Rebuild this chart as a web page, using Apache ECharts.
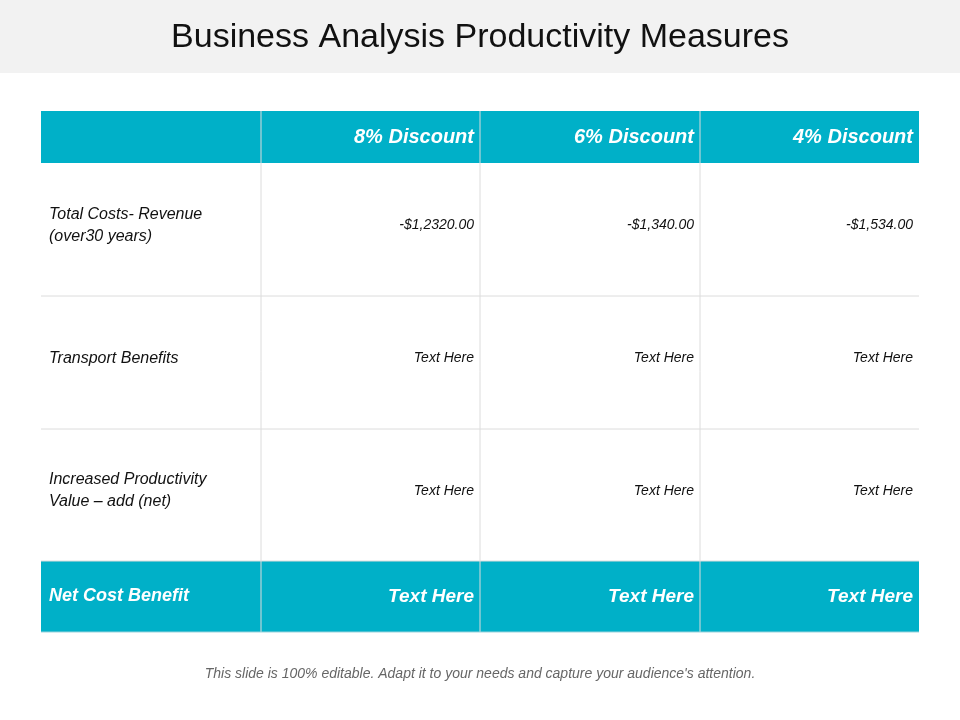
<!DOCTYPE html>
<html><head><meta charset="utf-8">
<script src="https://cdn.jsdelivr.net/npm/echarts@6/dist/echarts.min.js"></script>
<style>html,body{margin:0;padding:0;background:#fff}#c{width:960px;height:720px}</style>
</head><body><div id="c"></div>
<script>
const title = "Business Analysis Productivity Measures";
const columns = ["8% Discount", "6% Discount", "4% Discount"];
const rowLabels = ["Total Costs- Revenue\n(over30 years)", "Transport Benefits", "Increased Productivity\nValue – add (net)"];
const rowValues = [
  ["-$1,2320.00", "-$1,340.00", "-$1,534.00"],
  ["Text Here", "Text Here", "Text Here"],
  ["Text Here", "Text Here", "Text Here"]
];
const totalLabel = "Net Cost Benefit";
const totalValues = ["Text Here", "Text Here", "Text Here"];
const footnote = "This slide is 100% editable. Adapt it to your needs and capture your audience's attention.";

const colX = [41, 261, 480, 700, 919];
const rowY = [111, 163, 296, 429, 561, 632];
const TEAL = "#00b0c8", LINE = "#dcdcdc", FONT = "Liberation Sans, Arial, sans-serif";
const g = [];
g.push({type:'rect', shape:{x:0,y:0,width:960,height:73}, style:{fill:'#f2f2f2'}});
g.push({type:'text', x:480, y:38, style:{text:title, font:'34px '+FONT, fill:'#111', align:'center', verticalAlign:'middle'}});
// header & footer bands
g.push({type:'rect', shape:{x:colX[0],y:rowY[0],width:colX[4]-colX[0],height:rowY[1]-rowY[0]}, style:{fill:TEAL}});
g.push({type:'rect', shape:{x:colX[0],y:rowY[4],width:colX[4]-colX[0],height:rowY[5]-rowY[4]}, style:{fill:TEAL}});
// grid lines
for (let i=1;i<4;i++) g.push({type:'line', shape:{x1:colX[i],y1:rowY[0],x2:colX[i],y2:rowY[5]}, style:{stroke:i? (LINE):LINE, lineWidth:1}});
for (let j=2;j<5;j++) g.push({type:'line', shape:{x1:colX[0],y1:rowY[j],x2:colX[4],y2:rowY[j]}, style:{stroke:LINE, lineWidth:1}});
g.push({type:'line', shape:{x1:colX[0],y1:rowY[5],x2:colX[4],y2:rowY[5]}, style:{stroke:'#9bd3dc', lineWidth:1}});
// header text
columns.forEach((c,i)=>g.push({type:'text', x:colX[i+2]-6, y:(rowY[0]+rowY[1])/2, style:{text:c, font:'italic bold 20px '+FONT, fill:'#fff', align:'right', verticalAlign:'middle'}}));
// body
rowLabels.forEach((l,r)=>{
  const cy=(rowY[r+1]+rowY[r+2])/2;
  g.push({type:'text', x:colX[0]+8, y:cy-4, style:{text:l, font:'italic 16px '+FONT, fill:'#111', align:'left', verticalAlign:'middle', lineHeight:22}});
  rowValues[r].forEach((v,i)=>g.push({type:'text', x:colX[i+2]-6, y:cy-4, style:{text:v, font:'italic 14px '+FONT, fill:'#111', align:'right', verticalAlign:'middle'}}));
});
const fy=(rowY[4]+rowY[5])/2;
g.push({type:'text', x:colX[0]+8, y:fy, style:{text:totalLabel, font:'italic bold 18px '+FONT, fill:'#fff', align:'left', verticalAlign:'middle'}});
totalValues.forEach((v,i)=>g.push({type:'text', x:colX[i+2]-6, y:fy, style:{text:v, font:'italic bold 19px '+FONT, fill:'#fff', align:'right', verticalAlign:'middle'}}));
g.push({type:'text', x:480, y:674, style:{text:footnote, font:'italic 14px '+FONT, fill:'#666', align:'center', verticalAlign:'middle'}});
const chart = echarts.init(document.getElementById('c'));
chart.setOption({animation:false, graphic:g});
</script></body></html>
